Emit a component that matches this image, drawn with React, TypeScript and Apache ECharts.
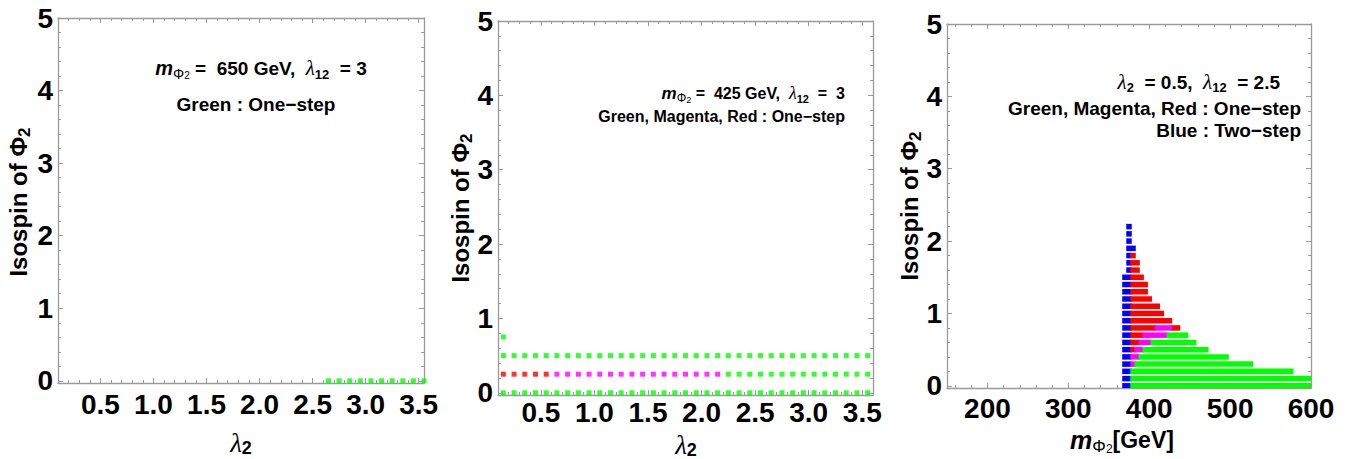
import React, { useEffect, useRef } from 'react';
import * as echarts from 'echarts';

const FONT = '"Liberation Sans", Arial, sans-serif';
const SERIF = '"Liberation Serif", "DejaVu Serif", serif';
const FRAME = '#9a9a9a';
const GREEN = '#00ff00';
const RED = '#ff0000';
const MAGENTA = '#ff00ff';
const BLUE = '#0000ff';

// Tick labels
const ISOSPIN_TICKS = [0, 1, 2, 3, 4, 5];
const LAMBDA_TICKS = [0.5, 1.0, 1.5, 2.0, 2.5, 3.0, 3.5];
const MASS_TICKS = [200, 300, 400, 500, 600];

// λ2 scan points
const LAMBDA_SCAN = [
  0.15, 0.25, 0.35, 0.45, 0.55, 0.65, 0.75, 0.85, 0.95, 1.05, 1.15, 1.25,
  1.35, 1.45, 1.55, 1.65, 1.75, 1.85, 1.95, 2.05, 2.15, 2.25, 2.35, 2.45,
  2.55, 2.65, 2.75, 2.85, 2.95, 3.05, 3.15, 3.25, 3.35, 3.45, 3.55,
];

// [isospin, λ2 from, λ2 to]  (m = 650 GeV)
const P1_GREEN = [[0, 2.65, 3.55]];
// [isospin, λ2 from, λ2 to]  (m = 425 GeV)
const P2_GREEN = [
  [0, 0.15, 3.55],
  [0.25, 2.25, 3.55],
  [0.5, 0.15, 3.55],
  [0.75, 0.15, 0.15],
];
const P2_RED = [[0.25, 0.15, 0.55]];
const P2_MAGENTA = [[0.25, 0.65, 2.15]];

// [isospin, m from, m to] in GeV  (λ2 = 0.5, λ12 = 2.5)
const P3_BLUE = [
  [2.2, 375, 375], [2.1, 375, 375], [2.0, 375, 375], [1.9, 375, 380],
  [1.8, 375, 375], [1.7, 375, 375], [1.6, 375, 375], [1.5, 370, 375],
  [1.4, 370, 375], [1.3, 370, 375], [1.2, 370, 375], [1.1, 370, 375],
  [1.0, 370, 375], [0.9, 370, 375], [0.8, 370, 375], [0.7, 370, 375],
  [0.6, 370, 375], [0.5, 370, 375], [0.4, 370, 375], [0.3, 370, 375],
  [0.2, 370, 375], [0.1, 370, 375], [0.0, 370, 375],
];
const P3_RED = [
  [1.8, 380, 380], [1.7, 380, 385], [1.6, 380, 385], [1.5, 380, 390],
  [1.4, 380, 395], [1.3, 380, 395], [1.2, 380, 400], [1.1, 380, 410],
  [1.0, 380, 415], [0.9, 380, 425], [0.8, 380, 405], [0.8, 430, 435],
  [0.7, 380, 390], [0.6, 380, 385], [0.5, 380, 380],
];
const P3_MAGENTA = [
  [0.8, 410, 425], [0.7, 395, 420], [0.6, 390, 400], [0.5, 385, 390],
  [0.4, 380, 385], [0.3, 380, 380],
];
const P3_GREEN = [
  [0.7, 425, 445], [0.6, 405, 455], [0.5, 395, 470], [0.4, 390, 495],
  [0.3, 385, 525], [0.2, 380, 575], [0.1, 380, 600], [0.0, 380, 600],
];

const GRIDS = [
  { left: 58, top: 18, width: 366, height: 365 },
  { left: 498, top: 21, width: 375, height: 374 },
  { left: 947, top: 24, width: 364, height: 364 },
];

function ticksBetween(a: number, b: number, step: number, skip: number[]) {
  const out: number[] = [];
  const n = Math.round((b - a) / step);
  for (let i = 0; i <= n; i++) {
    const v = +(a + i * step).toFixed(4);
    if (!skip.some((s) => Math.abs(s - v) < 1e-6)) out.push(v);
  }
  return out;
}

const Y_MINOR = ticksBetween(0, 5, 0.2, ISOSPIN_TICKS);
const LAMBDA_MINOR = ticksBetween(0.1, 3.5, 0.1, LAMBDA_TICKS);
const MASS_MINOR = ticksBetween(160, 580, 20, MASS_TICKS);

const labelStyle = {
  fontFamily: FONT,
  fontWeight: 'bold' as const,
  fontSize: 28,
  color: '#000',
};

function axisPair(
  grid: number,
  min: number,
  max: number,
  major: number[],
  minor: number[],
  pos: string,
  showLabels: boolean,
  margin: number,
  fmt: (v: number) => string
) {
  const base = {
    gridIndex: grid,
    type: 'value',
    min,
    max,
    position: pos,
    splitLine: { show: false },
    silent: true,
  };
  return [
    {
      ...base,
      axisLine: { show: true, onZero: false, lineStyle: { color: FRAME, width: 1.3 } },
      axisTick: {
        show: true,
        inside: true,
        length: 5,
        customValues: major,
        lineStyle: { color: FRAME, width: 1 },
      },
      axisLabel: showLabels
        ? { show: true, customValues: major, margin, formatter: fmt, ...labelStyle }
        : { show: false },
    },
    {
      ...base,
      axisLine: { show: false, onZero: false },
      axisTick: {
        show: true,
        inside: true,
        length: 3,
        customValues: minor,
        lineStyle: { color: FRAME, width: 1 },
      },
      axisLabel: { show: false },
    },
  ];
}

function dotRows(rows: number[][]) {
  const pts: number[][] = [];
  rows.forEach(([iso, from, to]) => {
    LAMBDA_SCAN.forEach((l) => {
      if (l >= from - 1e-9 && l <= to + 1e-9) pts.push([l, iso]);
    });
  });
  return pts;
}

const HALF = 2.75;
function barItem(params: any, api: any) {
  const iso = api.value(0);
  const p0 = api.coord([api.value(1), iso]);
  const p1 = api.coord([api.value(2), iso]);
  return {
    type: 'rect',
    shape: {
      x: p0[0] - HALF,
      y: p0[1] - HALF,
      width: p1[0] - p0[0] + 2 * HALF,
      height: 2 * HALF,
    },
    style: { fill: api.visual('color') },
  };
}

const b = (size: number) => ({
  fontFamily: FONT,
  fontWeight: 'bold' as const,
  fontSize: size,
  lineHeight: size + 5,
  color: '#000',
});

function richStyles(size: number) {
  return {
    b: b(size),
    mi: { ...b(size + 1), fontStyle: 'italic' as const },
    lam: {
      fontFamily: SERIF,
      fontStyle: 'italic' as const,
      fontSize: size + 2,
      lineHeight: size + 5,
      color: '#000',
    },
    phi: {
      fontFamily: FONT,
      fontSize: Math.round(size * 0.74),
      lineHeight: Math.round(size * 0.74),
      verticalAlign: 'bottom' as const,
      color: '#000',
    },
    sub: {
      fontFamily: FONT,
      fontWeight: 'bold' as const,
      fontSize: Math.round(size * 0.7),
      lineHeight: Math.round(size * 0.7),
      verticalAlign: 'bottom' as const,
      color: '#000',
    },
    sub2: {
      fontFamily: FONT,
      fontSize: Math.round(size * 0.55),
      lineHeight: Math.round(size * 0.5),
      verticalAlign: 'bottom' as const,
      color: '#000',
    },
  };
}

function note(x: number, y: number, text: string, size: number, align: string) {
  return {
    type: 'text',
    x,
    y,
    silent: true,
    style: {
      text,
      rich: richStyles(size),
      align,
      verticalAlign: 'middle',
    },
  };
}

function yName(x: number, y: number) {
  return {
    type: 'text',
    x,
    y,
    rotation: Math.PI / 2,
    silent: true,
    style: {
      text: '{b|Isospin of Φ}{sub|2}',
      rich: {
        b: b(24),
        sub: {
          fontFamily: FONT,
          fontWeight: 'bold',
          fontSize: 17,
          lineHeight: 17,
          verticalAlign: 'bottom',
          color: '#000',
        },
      },
      align: 'center',
      verticalAlign: 'middle',
    },
  };
}

function lambdaName(x: number, y: number) {
  return {
    type: 'text',
    x,
    y,
    silent: true,
    style: {
      text: '{lam|λ}{sub|2}',
      rich: {
        lam: {
          fontFamily: SERIF,
          fontStyle: 'italic',
          fontSize: 27,
          lineHeight: 28,
          color: '#000',
        },
        sub: {
          fontFamily: FONT,
          fontWeight: 'bold',
          fontSize: 18,
          lineHeight: 17,
          verticalAlign: 'bottom',
          color: '#000',
        },
      },
      align: 'center',
      verticalAlign: 'middle',
    },
  };
}

export default function App() {
  const ref = useRef<HTMLDivElement>(null);

  useEffect(() => {
    if (!ref.current) return;
    const chart = echarts.init(ref.current, undefined, { renderer: 'svg' });

    const intFmt = (v: number) => String(Math.round(v));
    const oneDec = (v: number) => v.toFixed(1);

    const xRanges = [
      { min: 0.1, max: 3.55, major: LAMBDA_TICKS, minor: LAMBDA_MINOR, fmt: oneDec, margin: 7 },
      { min: 0.1, max: 3.6, major: LAMBDA_TICKS, minor: LAMBDA_MINOR, fmt: oneDec, margin: 3 },
      { min: 150, max: 600, major: MASS_TICKS, minor: MASS_MINOR, fmt: intFmt, margin: 6 },
    ];

    const xAxis: any[] = [];
    const yAxis: any[] = [];
    xRanges.forEach((r, g) => {
      xAxis.push(...axisPair(g, r.min, r.max, r.major, r.minor, 'bottom', true, r.margin, r.fmt));
      xAxis.push(...axisPair(g, r.min, r.max, r.major, r.minor, 'top', false, 0, r.fmt));
      yAxis.push(...axisPair(g, -0.03, 5, ISOSPIN_TICKS, Y_MINOR, 'left', true, 5, intFmt));
      yAxis.push(...axisPair(g, -0.03, 5, ISOSPIN_TICKS, Y_MINOR, 'right', false, 0, intFmt));
    });

    const dots = (g: number, rows: number[][], color: string) => ({
      type: 'scatter',
      xAxisIndex: g * 4,
      yAxisIndex: g * 4,
      symbol: 'rect',
      symbolSize: 5,
      clip: true,
      silent: true,
      itemStyle: { color },
      data: dotRows(rows),
    });

    const bars = (rows: number[][], color: string) => ({
      type: 'custom',
      xAxisIndex: 8,
      yAxisIndex: 8,
      clip: true,
      silent: true,
      itemStyle: { color },
      encode: { x: [1, 2], y: 0 },
      renderItem: barItem,
      data: rows,
    });

    chart.setOption({
      animation: false,
      backgroundColor: '#ffffff',
      grid: GRIDS.map((g) => ({ ...g, containLabel: false })),
      xAxis,
      yAxis,
      series: [
        dots(0, P1_GREEN, GREEN),
        dots(1, P2_GREEN, GREEN),
        dots(1, P2_RED, RED),
        dots(1, P2_MAGENTA, MAGENTA),
        bars(P3_BLUE, BLUE),
        bars(P3_RED, RED),
        bars(P3_MAGENTA, MAGENTA),
        bars(P3_GREEN, GREEN),
      ],
      graphic: [
        yName(18, 202),
        yName(460, 208),
        yName(909, 206),
        lambdaName(241, 443),
        lambdaName(686, 445),
        {
          type: 'text',
          x: 1122,
          y: 440,
          silent: true,
          style: {
            text: '{mi|m}{phi|Φ}{sub2|2}{b|[GeV]}',
            rich: {
              ...richStyles(23),
              mi: { ...b(25), fontStyle: 'italic' },
              phi: {
                fontFamily: FONT,
                fontSize: 17,
                lineHeight: 15,
                verticalAlign: 'bottom',
                color: '#000',
              },
              sub2: {
                fontFamily: FONT,
                fontSize: 12,
                lineHeight: 10,
                verticalAlign: 'bottom',
                color: '#000',
              },
            },
            align: 'center',
            verticalAlign: 'middle',
          },
        },
        note(261, 68, '{mi|m}{phi|Φ}{sub2|2}{b| =  650 GeV,  }{lam|λ}{sub|12}{b|  = 3}', 19, 'center'),
        note(256, 104, '{b|Green : One−step}', 19, 'center'),
        note(845, 93, '{mi|m}{phi|Φ}{sub2|2}{b| =  425 GeV,  }{lam|λ}{sub|12}{b|  =  3}', 16, 'right'),
        note(845, 116, '{b|Green, Magenta, Red : One−step}', 16, 'right'),
        note(1280, 82, '{lam|λ}{sub|2}{b|  = 0.5,  }{lam|λ}{sub|12}{b|  = 2.5}', 19, 'right'),
        note(1301, 108, '{b|Green, Magenta, Red : One−step}', 19, 'right'),
        note(1301, 130, '{b|Blue : Two−step}', 19, 'right'),
      ],
    });

    return () => chart.dispose();
  }, []);

  return (
    <div
      ref={ref}
      style={{ position: 'absolute', left: 0, top: 0, width: 1358, height: 459 }}
    />
  );
}
